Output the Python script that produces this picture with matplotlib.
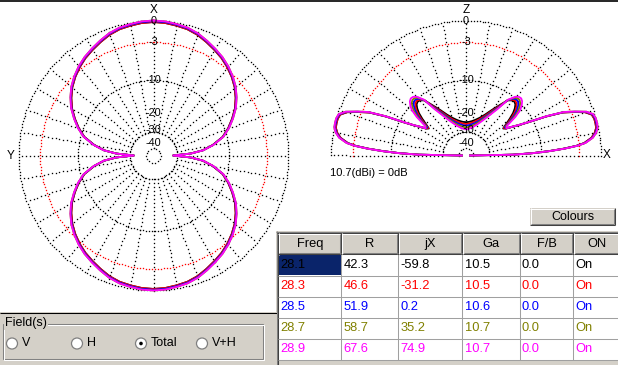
import numpy as np
import matplotlib.pyplot as plt
from matplotlib.patches import Rectangle, Circle
from matplotlib.transforms import offset_copy

plt.rcParams['font.family'] = ['Liberation Sans', 'DejaVu Sans']

# ---- table data ----
headers = ['Freq', 'R', 'jX', 'Ga', 'F/B', 'ON']
freq = ['28.1', '28.3', '28.5', '28.7', '28.9']
res = ['42.3', '46.6', '51.9', '58.7', '67.6']
reac = ['-59.8', '-31.2', '0.2', '35.2', '74.9']
gain = [10.5, 10.5, 10.6, 10.7, 10.7]
fb = ['0.0', '0.0', '0.0', '0.0', '0.0']
state = ['On', 'On', 'On', 'On', 'On']
colors = ['#000000', '#ff0000', '#0000ff', '#808000', '#ff00ff']
ref_gain = 10.7  # dBi shown as 0 dB

# ---- scale (dB) ----
ring_db = [0, -3, -10, -30, -50]
label_db = [0, -3, -10, -20, -30, -40]
label_txt = ['0', '-3', '-10', '-20', '-30', '-40']

# ---- azimuth pattern, one quadrant (deg from X axis, dB rel. max) ----
az_deg = [0, 5, 10, 15, 20, 25, 30, 35, 40, 45, 50, 55, 60, 65, 70, 75, 80, 84, 87, 90]
az_db = [0, -0.05, -0.2, -0.35, -0.65, -1.1, -1.55, -2.0, -2.55, -3.2,
         -3.95, -4.9, -6.0, -7.4, -8.9, -10.7, -13.7, -17.0, -22.0, -33.0]

# ---- elevation pattern, main lobe (shape, rel. max) ----
el_low_deg = [0, 1, 2, 3, 4, 5, 6, 8, 10, 12, 14, 16, 18, 20, 22, 24, 26, 28, 30, 32, 34]
el_low_db = [-60, -18, -12, -8.2, -5.3, -3.2, -2.0, -0.9, -0.35, -0.05, 0, 0,
             -0.15, -0.9, -2.4, -4.0, -7.0, -10.8, -13.6, -15.6, -17.5]

# ---- elevation pattern, high angles, per frequency (dB rel. 10.7 dBi) ----
el_high_deg = [36, 38, 40, 42, 44, 46, 48, 50, 53, 56, 60, 65, 70, 75, 80, 85, 90]
el_281 = [-18.5, -16.8, -14.8, -13.0, -11.8, -11.0, -10.7, -10.8, -11.5, -13.6,
          -16.0, -18.8, -20.8, -22.2, -23.2, -23.8, -24.0]
el_283 = [-18.2, -15.9, -13.8, -12.2, -11.2, -10.6, -10.4, -10.6, -11.5, -14.0,
          -16.6, -19.5, -21.6, -23.0, -24.0, -24.7, -25.0]
el_285 = [-17.8, -15.0, -12.9, -11.5, -10.6, -10.1, -10.0, -10.3, -11.5, -14.4,
          -17.2, -20.2, -22.4, -23.9, -24.9, -25.6, -25.9]
el_287 = [-17.3, -14.1, -12.0, -10.8, -10.0, -9.6, -9.6, -10.0, -11.4, -14.8,
          -17.8, -20.9, -23.2, -24.8, -25.9, -26.6, -27.0]
el_289 = [-16.8, -13.2, -11.1, -10.1, -9.4, -9.1, -9.2, -9.7, -11.3, -15.2,
          -18.5, -21.7, -24.1, -25.8, -27.0, -27.8, -28.2]
el_high = [el_281, el_283, el_285, el_287, el_289]

W, H = 618, 365
R_PX = 135
GREY = '#d4d0c8'


def arrl(db):
    # ARRL log scale: 0.89 per 2 dB
    return 0.89 ** (-np.asarray(db, dtype=float) / 2.0)


def polar_box(cx, cy, rad):
    return [(cx - rad) / W, (H - cy - rad) / H, 2 * rad / W, 2 * rad / H]


def dots(ax, th, r, col):
    ax.plot(th, r, ls='none', marker='s', ms=0.95, mew=0, color=col, clip_on=False)


def grid(ax, span):
    # dotted rings (about 3 px apart) and spokes (about 4 px apart)
    for db in ring_db:
        r = float(arrl(db))
        n = max(int(np.radians(span) * r * R_PX / 3.0), 8)
        th = np.radians(np.linspace(0, span, n + 1))
        dots(ax, th, np.full_like(th, r), 'red' if db == -3 else 'black')
    r_in = float(arrl(ring_db[3]))
    rr = np.arange(r_in * R_PX, R_PX + 0.1, 4.0) / R_PX
    stop = span if span == 360 else span + 1
    for a in range(0, stop, 10):
        dots(ax, np.full_like(rr, np.radians(a)), rr, 'black')


def scale_labels(ax, th):
    nudge = {-30: 1.5, -40: -1.0}
    for db, s in zip(label_db, label_txt):
        tr = offset_copy(ax.transData, fig=fig, y=nudge.get(db, 0), units='dots')
        ax.text(th, arrl(db), s, ha='center', va='center', fontsize=7.8,
                transform=tr, clip_on=False)


fig = plt.figure(figsize=(W / 100, H / 100), dpi=100)
fig.patch.set_facecolor('white')

# ---- azimuth (left) ----
ax1 = fig.add_axes(polar_box(153.5, 155.5, R_PX), projection='polar')
ax1.set_theta_zero_location('N')
ax1.set_theta_direction(-1)
ax1.set_ylim(0, 1)
ax1.axis('off')
grid(ax1, 360)
scale_labels(ax1, 0)
ax1.text(0, 1.08, 'X', ha='center', va='center', fontsize=8.5, clip_on=False)
ax1.text(np.radians(270), 1.055, 'Y', ha='center', va='center', fontsize=8.5, clip_on=False)

a = np.array(az_deg, dtype=float)
d = np.array(az_db, dtype=float)
az_theta = np.radians(np.concatenate([a, 180 - a[::-1], 180 + a, 360 - a[::-1]]))
az_full = np.concatenate([d, d[::-1], d, d[::-1]])
for g, c in zip(gain, colors):
    ax1.plot(az_theta, arrl(az_full + g - ref_gain), color=c, lw=1.3, clip_on=False)

# ---- elevation (right) ----
ax2 = fig.add_axes(polar_box(466, 155.5, R_PX), projection='polar')
ax2.set_theta_zero_location('E')
ax2.set_ylim(0, 1)
ax2.axis('off')
grid(ax2, 180)
scale_labels(ax2, np.pi / 2)
ax2.text(np.pi / 2, 1.08, 'Z', ha='center', va='center', fontsize=8.5, clip_on=False)
ax2.text(0, 1.04, 'X', ha='center', va='center', fontsize=8.5, clip_on=False)

el = np.array(el_low_deg + el_high_deg, dtype=float)
el_theta = np.radians(np.concatenate([el, 180 - el[::-1]]))
for g, hi, c in zip(gain, el_high, colors):
    half = np.concatenate([np.array(el_low_db) + g - ref_gain, hi])
    ax2.plot(el_theta, arrl(np.concatenate([half, half[::-1]])), color=c, lw=1.3, clip_on=False)

# ---- window chrome ----
ui = fig.add_axes([0, 0, 1, 1], zorder=5)
ui.set_xlim(0, W)
ui.set_ylim(H, 0)
ui.axis('off')


def hline(x0, x1, y, c, lw=0.75):
    ui.plot([x0, x1], [y, y], color=c, lw=lw, solid_capstyle='butt')


def vline(x, y0, y1, c, lw=0.75):
    ui.plot([x, x], [y0, y1], color=c, lw=lw, solid_capstyle='butt')


def raised(x, y, w, h):
    ui.add_patch(Rectangle((x, y), w, h, fc=GREY, ec='none'))
    hline(x, x + w, y + 0.5, 'white')
    vline(x + 0.5, y, y + h, 'white')
    hline(x, x + w, y + h - 0.5, '#404040')
    vline(x + w - 0.5, y, y + h, '#404040')
    hline(x + 1, x + w - 1, y + h - 1.5, '#808080')
    vline(x + w - 1.5, y + 1, y + h - 1, '#808080')


hline(0, W, 0.7, 'black', lw=1.2)
ui.text(330, 173, '10.7(dBi) = 0dB', ha='left', va='center', fontsize=8)

# Field(s) panel
ui.add_patch(Rectangle((0, 312), 277, 53, fc=GREY, ec='none'))
hline(0, 277, 312.5, 'black')
ui.add_patch(Rectangle((2.5, 323.5), 260, 35, fc='none', ec='#808080', lw=0.75))
ui.add_patch(Rectangle((3.5, 324.5), 260, 35, fc='none', ec='white', lw=0.75))
ui.text(5, 323, 'Field(s)', ha='left', va='center', fontsize=9,
        bbox=dict(fc=GREY, ec='none', pad=0.5))
radio_x = [12, 77, 141, 202]
radio_txt = ['V', 'H', 'Total', 'V+H']
for rx, s in zip(radio_x, radio_txt):
    ui.add_patch(Circle((rx, 343.5), 5.5, fc='white', ec='#808080', lw=0.9))
    if s == 'Total':
        ui.add_patch(Circle((rx, 343.5), 1.8, fc='black', ec='none'))
    ui.text(rx + 10, 343.5, s, ha='left', va='center', fontsize=9)

# Colours button
raised(530, 208, 85, 17)
ui.text(572.5, 216.5, 'Colours', ha='center', va='center', fontsize=9)

# grid table
ui.add_patch(Rectangle((276, 231), W - 276, H - 231, fc=GREY, ec='none'))
vline(276.5, 231, H, '#808080')
vline(277.5, 232, H, '#404040')
hline(276, W, 231.5, '#808080')
hline(277, W, 232.5, '#404040')
col_x = [278, 341.5, 398.5, 462.5, 520, 573.5, 620]
row_y = [255, 276, 297, 318, 339, 360]
for j, h in enumerate(headers):
    x0, x1 = col_x[j], col_x[j + 1]
    raised(x0, 233, x1 - x0, 21.5)
    ui.text((x0 + x1) / 2, 244, h, ha='center', va='center', fontsize=9.3)
ui.add_patch(Rectangle((278, 254.5), W - 278, 360 - 254.5, fc='white', ec='none'))
columns = [freq, res, reac, [f'{v:.1f}' for v in gain], fb, state]
for i in range(5):
    y0, y1 = row_y[i], row_y[i + 1]
    if i == 0:
        ui.add_patch(Rectangle((col_x[0], y0), col_x[1] - col_x[0] - 1, y1 - y0 - 1,
                               fc='#0a246a', ec='none'))
    for j, col in enumerate(columns):
        ui.text(col_x[j] + 2, (y0 + y1) / 2 - 0.5, col[i], ha='left', va='center',
                fontsize=9.3, color=colors[i])
    hline(278, W, y1 - 0.5, '#a0a0a0')
for x in col_x[1:-1]:
    vline(x - 0.5, 254.5, 360, '#a0a0a0')

fig.savefig('out.png', dpi=100, facecolor='white')
